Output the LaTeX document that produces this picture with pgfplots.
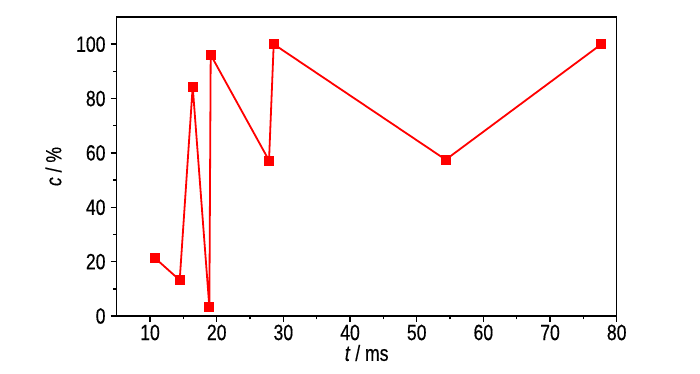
\documentclass[border=0pt]{standalone}
\usepackage{fontspec}
\setmainfont[FakeStretch=0.8, FakeBold=0.4]{Liberation Sans}
\usepackage{pgfplots}
\pgfplotsset{compat=1.18}
\begin{document}
\begin{tikzpicture}
\begin{axis}[name=ax, scale only axis, width=500pt, height=299pt,
  xmin=5, xmax=80, ymin=0, ymax=110,
  xtick={10,20,...,80}, ytick={0,20,...,100},
  minor x tick num=1, minor y tick num=1,
  tick align=outside, xtick pos=bottom, ytick pos=left,
  major tick length=6pt, minor tick length=3.5pt,
  axis line style={line width=1.5pt},
  every tick/.style={black, line width=1.5pt},
  ticklabel style={font=\fontsize{22}{24}\selectfont},
  xticklabel style={inner sep=1pt, yshift=-1.5pt},
  yticklabel style={inner sep=1pt, xshift=-4pt},
  /pgf/number format/assume math mode=true,
  xlabel={\textit{t} / ms}, ylabel={\textit{c} / \%},
  xlabel style={font=\fontsize{22}{24}\selectfont, at={(axis description cs:0.5,-0.096)}, anchor=north, inner sep=0pt},
  ylabel style={font=\fontsize{22}{24}\selectfont, at={(axis description cs:-0.11,0.5)}, anchor=south, inner sep=0pt},
  clip=false,
]
\addplot[red, line width=1.8pt, mark=square*, mark size=4.5pt, mark options={solid, fill=red, line width=0pt}] coordinates {
(10.75,21.3)(14.45,13.2)(16.4,84.4)(18.9,3.2)(19.1,96.1)(27.85,57.2)(28.55,100)(54.35,57.5)(77.7,100)
};
\end{axis}
\path ([shift={(-116.7pt,-58pt)}]ax.south west) rectangle ([shift={(83.3pt,17pt)}]ax.north east);
\end{tikzpicture}
\end{document}
